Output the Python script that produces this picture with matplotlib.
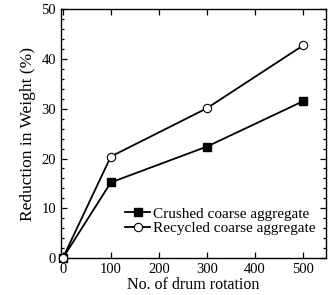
import matplotlib
matplotlib.use("Agg")
import matplotlib.pyplot as plt
from matplotlib.ticker import MultipleLocator

# drum rotations and weight loss (%)
rotations = [0, 100, 300, 500]
crushed = [0, 15.2, 22.4, 31.5]
recycled = [0, 20.4, 30.1, 42.7]

plt.rcParams['font.family'] = ['Liberation Serif', 'DejaVu Serif']

fig = plt.figure(figsize=(3.31, 2.95), dpi=100)
ax = fig.add_axes([0.184, 0.125, 0.801, 0.844])

ax.plot(rotations, crushed, color='black', lw=1.3, marker='s', ms=5.5,
        mfc='black', mec='black', clip_on=False, zorder=3,
        label='Crushed coarse aggregate')
ax.plot(rotations, recycled, color='black', lw=1.3, marker='o', ms=6,
        mfc='white', mec='black', mew=0.8, clip_on=False, zorder=3,
        label='Recycled coarse aggregate')

ax.set_xlim(-4, 548)
ax.set_ylim(0, 50)
ax.xaxis.set_major_locator(MultipleLocator(100))
ax.yaxis.set_major_locator(MultipleLocator(10))
ax.yaxis.set_minor_locator(MultipleLocator(2))
ax.tick_params(which='both', direction='in', top=True, right=True,
               labelsize=10.5, width=0.9)
ax.tick_params(which='major', length=4)
ax.tick_params(which='minor', length=2)
for s in ax.spines.values():
    s.set_linewidth(1.0)

ax.set_xlabel("No. of drum rotation", fontsize=11.5, labelpad=1)
ax.set_ylabel("Reduction in Weight (%)", fontsize=12.5, labelpad=4)

ax.legend(loc='lower right', bbox_to_anchor=(1.0, 0.05), frameon=False,
          fontsize=11, handlelength=1.6, handletextpad=0.2,
          labelspacing=0.05, borderpad=0.2)

fig.savefig("out.png", dpi=100)
